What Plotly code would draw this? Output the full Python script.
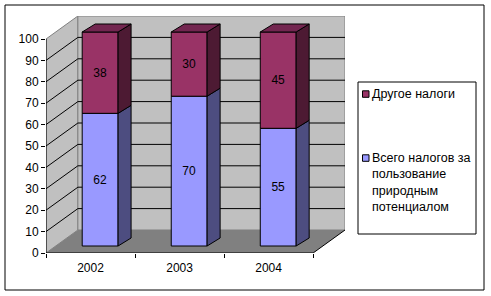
import plotly.graph_objects as go

# ---------------- data ----------------
years = ["2002", "2003", "2004"]
nature_tax = [62, 70, 55]          # Всего налогов за пользование природным потенциалом
other_tax = [38, 30, 45]           # Другое налоги
y_ticks = [0, 10, 20, 30, 40, 50, 60, 70, 80, 90, 100]
name_nature = "Всего налогов за<br>пользование<br>природным<br>потенциалом"
name_other = "Другое налоги"

# ---------------- style / pseudo-3D geometry ----------------
FONT = "Arial, Liberation Sans, sans-serif"
C_NAT, C_NAT_SIDE = "#9999ff", "#4d4d80"
C_OTH, C_OTH_SIDE, C_OTH_TOP = "#993366", "#4d1a33", "#732650"
C_WALL, C_FLOOR, C_EDGE = "#c0c0c0", "#808080", "#808080"

X0, X1 = -0.5, 2.5          # front category span
WDX, WDY = 0.358, 10.75     # wall depth offset (x units, value units)
XMAX = X1 + WDX
YMAX = 100 + WDY
BOX, BOY = 0.108, 3.27      # bar front face offset into depth
BW = 0.403                  # bar width
BDX, BDY = 0.146, 3.74      # bar depth

W, H = 491, 296
ML, MR, MT, MB = 46, 146, 16, 43
PW, PH = W - ML - MR, H - MT - MB
def px2x(p): return (p - ML) / PW
def py2y(p): return (H - MB - p) / PH

fig = go.Figure()
n = len(years)
xs = [i + BOX for i in range(n)]
base_nat = [BOY] * n
base_oth = [BOY + v for v in nature_tax]

fig.add_trace(go.Bar(
    x=xs, y=nature_tax, base=base_nat, width=BW, name=name_nature,
    marker=dict(color=C_NAT, line=dict(color="black", width=1)),
    text=[str(v) for v in nature_tax], textposition="inside",
    insidetextanchor="middle", textangle=0,
    textfont=dict(color="black", size=12, family=FONT),
    showlegend=False, hoverinfo="skip"))
fig.add_trace(go.Bar(
    x=xs, y=other_tax, base=base_oth, width=BW, name=name_other,
    marker=dict(color=C_OTH, line=dict(color="black", width=1)),
    text=[str(v) for v in other_tax], textposition="inside",
    insidetextanchor="middle", textangle=0,
    textfont=dict(color="black", size=12, family=FONT),
    showlegend=False, hoverinfo="skip"))

# side and top faces (derived from data)
def poly_trace(px, py, color):
    return go.Scatter(x=px, y=py, mode="lines", fill="toself", fillcolor=color,
                      line=dict(color="black", width=1), showlegend=False,
                      hoverinfo="skip")

sx_n, sy_n, sx_o, sy_o, tx, ty = [], [], [], [], [], []
for i in range(n):
    r = xs[i] + BW / 2
    l = xs[i] - BW / 2
    b0 = base_nat[i]
    t0 = b0 + nature_tax[i]
    t1 = t0 + other_tax[i]
    sx_n += [r, r + BDX, r + BDX, r, r, None]
    sy_n += [b0, b0 + BDY, t0 + BDY, t0, b0, None]
    sx_o += [r, r + BDX, r + BDX, r, r, None]
    sy_o += [t0, t0 + BDY, t1 + BDY, t1, t0, None]
    tx += [l, l + BDX, r + BDX, r, l, None]
    ty += [t1, t1 + BDY, t1 + BDY, t1, t1, None]
fig.add_trace(poly_trace(sx_n, sy_n, C_NAT_SIDE))
fig.add_trace(poly_trace(sx_o, sy_o, C_OTH_SIDE))
fig.add_trace(poly_trace(tx, ty, C_OTH_TOP))

# ---------------- walls, floor, gridlines ----------------
shapes = []
shapes.append(dict(type="path", layer="below",
                   path=f"M {X0},0 L {X0+WDX},{WDY} L {X0+WDX},{100+WDY} L {X0},100 Z",
                   fillcolor=C_WALL, line=dict(color=C_EDGE, width=1)))
shapes.append(dict(type="rect", layer="below", x0=X0 + WDX, x1=XMAX, y0=WDY, y1=YMAX,
                   fillcolor=C_WALL, line=dict(color=C_EDGE, width=1)))
for v in y_ticks[1:-1]:
    shapes.append(dict(type="line", layer="below", x0=X0 + WDX, x1=XMAX,
                       y0=v + WDY, y1=v + WDY, line=dict(color="black", width=1)))
    shapes.append(dict(type="line", layer="below", x0=X0, x1=X0 + WDX,
                       y0=v, y1=v + WDY, line=dict(color="black", width=1)))
shapes.append(dict(type="path", layer="below",
                   path=f"M {X0},0 L {X1},0 L {XMAX},{WDY} L {X0+WDX},{WDY} Z",
                   fillcolor=C_FLOOR, line=dict(width=0)))
shapes.append(dict(type="line", layer="below", x0=X1, x1=XMAX, y0=0, y1=WDY,
                   line=dict(color="black", width=1)))
shapes.append(dict(type="line", layer="below", x0=X0, x1=X0, y0=0, y1=100,
                   line=dict(color="black", width=1)))
shapes.append(dict(type="line", layer="below", x0=X0, x1=X1, y0=0, y1=0,
                   line=dict(color="black", width=1)))
# outer chart border
shapes.append(dict(type="rect", xref="paper", yref="paper",
                   x0=px2x(5), x1=px2x(484), y0=py2y(290), y1=py2y(5),
                   line=dict(color="black", width=1), fillcolor="rgba(0,0,0,0)"))

# ---------------- legend (drawn box, swatches, text) ----------------
shapes.append(dict(type="rect", xref="paper", yref="paper",
                   x0=px2x(358), x1=px2x(476), y0=py2y(234), y1=py2y(82),
                   line=dict(color="black", width=1), fillcolor="white"))
legend_items = [(name_other, C_OTH, 94, 94), (name_nature, C_NAT, 158, 182.4)]
annotations = []
for label, color, sw_y, txt_y in legend_items:
    shapes.append(dict(type="rect", xref="paper", yref="paper",
                       x0=px2x(362.5), x1=px2x(369), y0=py2y(sw_y + 3.3), y1=py2y(sw_y - 3.2),
                       line=dict(color="black", width=1), fillcolor=color))
    annotations.append(dict(xref="paper", yref="paper", x=px2x(369.5), y=py2y(txt_y),
                            xanchor="left", yanchor="middle", align="left",
                            text=label, showarrow=False,
                            font=dict(size=12.5, family=FONT, color="black")))

fig.update_layout(
    width=W, height=H, margin=dict(l=ML, r=MR, t=MT, b=MB),
    paper_bgcolor="white", plot_bgcolor="white",
    barmode="overlay", shapes=shapes, annotations=annotations,
    font=dict(family=FONT, size=12, color="black"),
    showlegend=False,
    xaxis=dict(range=[X0, XMAX], tickvals=list(range(n)), ticktext=years,
               ticks="", showgrid=False, zeroline=False, showline=False,
               tickfont=dict(size=12), fixedrange=True, ticklabelstandoff=6,
               minor=dict(tickvals=[X0 + k for k in range(n + 1)], ticks="outside",
                          ticklen=4, tickcolor="black", showgrid=False)),
    yaxis=dict(range=[0, YMAX], tickvals=y_ticks, ticks="outside", ticklen=4,
               tickcolor="black", showgrid=False, zeroline=False, showline=False,
               tickfont=dict(size=12), fixedrange=True),
)

fig.write_html("out.html")
